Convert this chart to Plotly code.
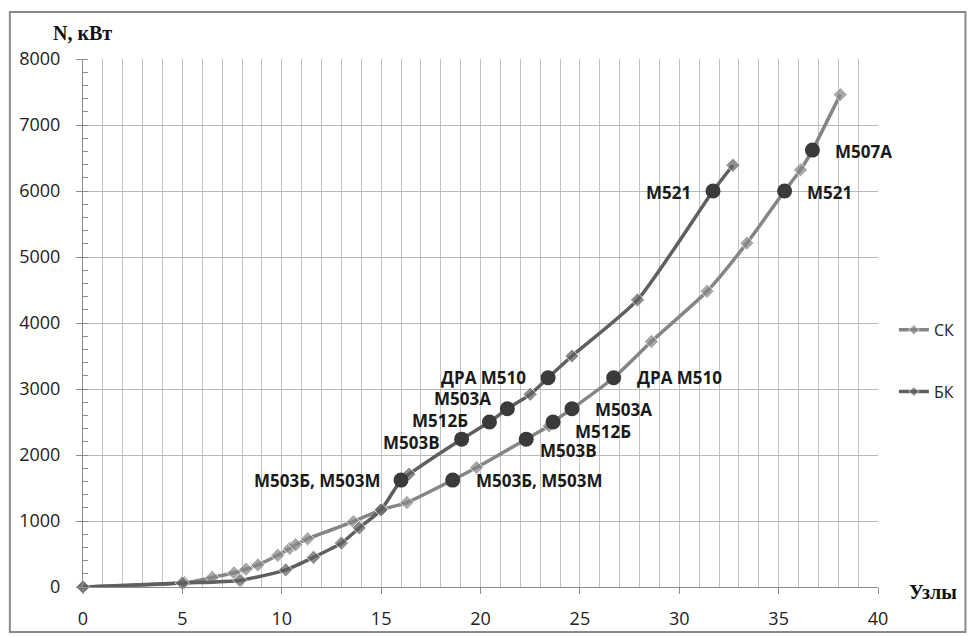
import plotly.graph_objects as go

# Power vs. speed curves (knots -> kW)
sk_x = [0, 5.1, 6.5, 7.6, 8.2, 8.8, 9.8, 10.4, 10.7, 11.3, 13.6, 15.0, 16.3, 19.8, 23.45, 28.6, 31.4, 33.4, 36.1, 38.1]
sk_y = [0, 65, 145, 215, 270, 335, 480, 585, 640, 730, 990, 1170, 1280, 1810, 2440, 3720, 4480, 5210, 6320, 7460]

bk_x = [0, 5.0, 7.9, 10.2, 11.6, 13.0, 13.9, 15.0, 16.4, 22.5, 24.6, 27.9, 32.7]
bk_y = [0, 60, 100, 260, 450, 665, 895, 1170, 1710, 2920, 3500, 4350, 6390]

# Engine points on each curve
sk_pt_x = [18.6, 22.3, 23.65, 24.6, 26.7, 35.3, 36.7]
sk_pt_y = [1620, 2240, 2500, 2700, 3170, 6000, 6620]
sk_pt_lbl = ["М503Б, М503М", "М503В", "М512Б", "М503А", "ДРА М510", "М521", "М507А"]

bk_pt_x = [16.0, 19.05, 20.45, 21.35, 23.4, 31.7]
bk_pt_y = [1620, 2240, 2500, 2700, 3170, 6000]
bk_pt_lbl = ["М503Б, М503М", "М503В", "М512Б", "М503А", "ДРА М510", "М521"]

x_ticks = [0, 5, 10, 15, 20, 25, 30, 35, 40]
y_ticks = [0, 1000, 2000, 3000, 4000, 5000, 6000, 7000, 8000]

# label offsets in pixels (dx, dy) relative to each engine point
sk_lbl_off = [(21, 0), (12, -11), (20, -9), (21, -1), (21, 0), (20, -1), (21, -1)]
bk_lbl_off = [(-18, 0), (-20, -3), (-19, 2), (-14, 10), (-20, 0), (-20, -1)]

SK_COLOR = "#858585"
BK_COLOR = "#5f5f5f"
PT_COLOR = "#3a3a3a"
LBL_FONT = dict(family="Open Sans", size=17, color="#1a1a1a")

fig = go.Figure()


def add_curve(xs, ys, px, py, color, name, legend):
    pts = sorted([(x, y, 11) for x, y in zip(xs, ys)] + [(x, y, 0) for x, y in zip(px, py)])
    fig.add_trace(go.Scatter(
        x=[p[0] for p in pts], y=[p[1] for p in pts],
        mode="lines+markers", name=name, legend=legend,
        line=dict(color=color, width=3.5, shape="spline", smoothing=0.6),
        marker=dict(symbol="diamond", size=[p[2] for p in pts], color=color),
        cliponaxis=False,
    ))
    fig.add_trace(go.Scatter(
        x=px, y=py, mode="markers", showlegend=False,
        marker=dict(symbol="circle", size=15, color=PT_COLOR),
        cliponaxis=False,
    ))


add_curve(sk_x, sk_y, sk_pt_x, sk_pt_y, SK_COLOR, "СК", "legend")
add_curve(bk_x, bk_y, bk_pt_x, bk_pt_y, BK_COLOR, "БК", "legend2")

for x, y, t, (dx, dy) in zip(sk_pt_x, sk_pt_y, sk_pt_lbl, sk_lbl_off):
    fig.add_annotation(x=x, y=y, text="<b>%s</b>" % t, showarrow=False, xanchor="left",
                       yanchor="middle", xshift=dx, yshift=dy, font=LBL_FONT)
for x, y, t, (dx, dy) in zip(bk_pt_x, bk_pt_y, bk_pt_lbl, bk_lbl_off):
    fig.add_annotation(x=x, y=y, text="<b>%s</b>" % t, showarrow=False, xanchor="right",
                       yanchor="middle", xshift=dx, yshift=dy, font=LBL_FONT)

# axis titles
fig.add_annotation(xref="paper", yref="paper", x=-0.04, y=1.05, xanchor="left", yanchor="middle",
                   text="<b>N, кВт</b>", showarrow=False,
                   font=dict(family="Liberation Serif", size=20, color="#111"))
fig.add_annotation(xref="paper", yref="paper", x=1.037, y=-0.01, xanchor="left", yanchor="middle",
                   text="<b>Узлы</b>", showarrow=False,
                   font=dict(family="Liberation Serif", size=20, color="#111"))

# outer chart frame
fig.add_shape(type="rect", xref="paper", yref="paper", x0=-0.092, x1=1.11, y0=-0.085, y1=1.089,
              line=dict(color="#8a8a8a", width=2), fillcolor="rgba(0,0,0,0)")

grid = "#c2c2c2"
axis = "#8c8c8c"
fig.update_xaxes(range=[0, 40], tickvals=x_ticks, ticks="outside", ticklen=6, tickcolor=axis,
                 showline=True, linecolor=axis, linewidth=1, zeroline=False, automargin=False,
                 showgrid=True, gridcolor=grid, gridwidth=1, ticklabelstandoff=9,
                 minor=dict(dtick=1, showgrid=True, gridcolor=grid, gridwidth=1, ticks=""),
                 tickfont=dict(family="Open Sans", size=18, color="#222"))
fig.update_yaxes(range=[0, 8000], tickvals=y_ticks, ticks="outside", ticklen=6, tickcolor=axis,
                 showline=True, linecolor=axis, linewidth=1, zeroline=False, automargin=False,
                 showgrid=True, gridcolor="#b8b8b8", gridwidth=1, ticklabelstandoff=12,
                 minor=dict(dtick=200, ticks="inside", ticklen=5, tickcolor=axis, showgrid=False),
                 tickfont=dict(family="Open Sans", size=18, color="#222"))

leg = dict(xanchor="left", yanchor="middle", bgcolor="rgba(0,0,0,0)",
           font=dict(family="Open Sans", size=16, color="#222"))
fig.update_layout(
    width=972, height=637,
    margin=dict(l=83, r=94, t=59, b=50, autoexpand=False),
    paper_bgcolor="white", plot_bgcolor="white",
    legend=dict(x=1.02, y=0.487, **leg),
    legend2=dict(x=1.02, y=0.37, **leg),
)

fig.write_html("out.html")
